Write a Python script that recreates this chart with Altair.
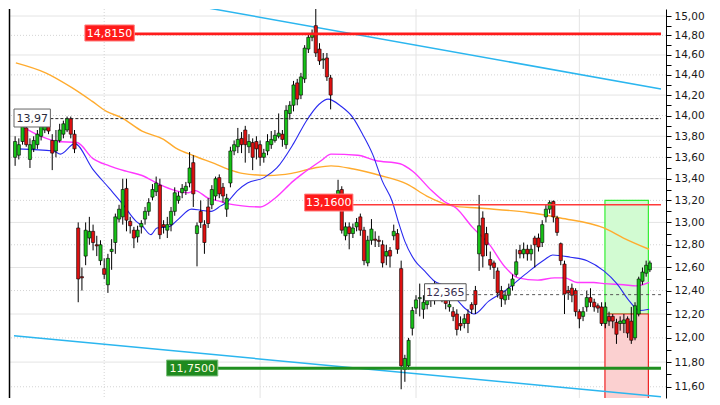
import altair as alt
import pandas as pd

# ---------------- data ----------------
OPEN = [13.60,13.62,13.75,13.88,13.58,13.68,13.72,13.80,13.86,13.97,13.76,13.66,13.76,13.82,13.86,13.97,13.82,
        12.95,12.52,12.70,12.86,12.92,12.80,12.66,12.59,12.45,12.74,12.82,13.03,13.05,13.31,13.01,12.93,12.87,
        12.96,13.03,13.10,13.23,13.28,13.34,12.98,12.93,12.98,13.10,13.20,13.27,13.29,13.36,13.55,12.90,13.10,
        12.98,13.14,13.16,13.24,13.41,13.32,13.12,13.36,13.66,13.70,13.78,13.86,13.70,13.74,13.75,13.72,13.60,
        13.66,13.72,13.76,13.80,13.82,13.72,14.02,14.10,14.32,14.20,14.36,14.66,14.78,14.90,14.66,14.55,14.57,
        14.37,13.16,13.22,13.30,12.88,12.96,12.90,12.96,13.05,12.93,12.64,12.84,12.85,12.84,12.80,12.70,12.75,
        12.88,12.90,12.59,11.74,11.77,12.08,12.25,12.33,12.24,12.28,12.32,12.32,12.40,12.40,12.32,12.26,12.22,
        12.20,12.12,12.12,12.20,12.28,12.40,12.72,13.04,12.90,12.67,12.64,12.57,12.40,12.32,12.36,12.44,12.54,
        12.75,12.72,12.76,12.72,12.86,12.86,12.82,13.05,13.12,13.19,13.04,12.81,12.63,12.40,12.42,12.40,12.22,
        12.18,12.26,12.34,12.30,12.27,12.26,12.12,12.18,12.18,12.13,12.12,12.12,12.16,12.14,12.00,12.20,12.48,
        12.55,12.58]
HIGH = [13.80,13.78,13.95,13.92,13.78,13.80,13.86,13.93,13.99,14.00,13.82,13.86,13.92,13.95,13.99,13.99,13.86,
        13.00,12.60,13.00,13.05,12.98,12.88,12.84,12.68,12.72,12.85,13.08,13.16,13.40,13.40,13.05,12.96,12.97,
        13.02,13.14,13.22,13.35,13.42,13.40,13.02,13.05,13.14,13.32,13.28,13.35,13.37,13.65,13.62,13.00,13.20,
        13.02,13.22,13.34,13.42,13.44,13.36,13.26,13.70,13.76,13.88,13.84,13.90,13.82,13.78,13.80,13.76,13.68,
        13.82,13.85,13.86,14.02,13.86,14.10,14.14,14.34,14.36,14.42,14.70,14.82,14.86,15.14,14.72,14.62,14.62,
        14.40,13.26,13.39,13.33,13.00,13.00,12.99,13.04,13.08,12.96,12.88,13.03,12.92,12.88,12.84,12.80,12.78,
        12.98,12.94,12.66,11.86,12.00,12.26,12.36,12.46,12.36,12.38,12.40,12.48,12.46,12.44,12.34,12.32,12.26,
        12.24,12.18,12.20,12.24,12.30,12.44,13.25,13.10,12.96,12.74,12.66,12.60,12.44,12.40,12.46,12.54,12.76,
        12.80,12.82,12.80,12.80,12.88,12.90,13.02,13.16,13.20,13.20,13.06,12.82,12.66,12.44,12.46,12.42,12.24,
        12.26,12.40,12.42,12.33,12.29,12.30,12.30,12.22,12.20,12.16,12.18,12.20,12.18,12.26,12.30,12.52,12.60,
        12.66,12.66]
LOW = [13.52,13.58,13.72,13.70,13.50,13.65,13.68,13.76,13.83,13.82,13.48,13.60,13.74,13.78,13.84,13.78,13.64,
       12.30,12.40,12.62,12.80,12.75,12.70,12.62,12.50,12.38,12.58,12.72,13.00,12.98,12.92,12.90,12.77,12.82,
       12.90,12.98,13.06,13.20,13.24,12.85,12.90,12.86,12.92,13.06,13.17,13.22,13.25,13.32,13.14,12.61,12.95,
       12.72,12.95,13.12,13.20,13.22,13.18,13.05,13.32,13.62,13.64,13.64,13.55,13.64,13.48,13.58,13.52,13.55,
       13.62,13.68,13.74,13.78,13.70,13.68,13.96,14.04,14.10,14.16,14.32,14.62,14.74,14.58,14.50,14.46,14.34,
       14.06,13.12,13.18,12.90,12.84,12.76,12.86,12.92,12.88,12.62,12.61,12.80,12.78,12.78,12.60,12.62,12.60,
       12.84,12.72,11.58,11.64,11.74,12.02,12.20,12.18,12.16,12.24,12.26,12.28,12.36,12.30,12.24,12.22,12.14,
       12.02,12.06,12.08,12.04,12.20,12.20,12.57,12.60,12.70,12.58,12.50,12.34,12.26,12.28,12.32,12.40,12.52,
       12.68,12.68,12.66,12.66,12.60,12.74,12.78,13.00,13.08,13.00,12.88,12.62,12.20,12.32,12.30,12.18,12.08,
       12.14,12.22,12.26,12.22,12.21,12.10,12.08,12.10,12.08,11.95,12.06,12.04,12.00,11.95,11.98,12.18,12.45,
       12.52,12.56]
CLOSE = [13.75,13.72,13.90,13.72,13.72,13.76,13.82,13.90,13.96,13.85,13.64,13.76,13.86,13.92,13.97,13.82,13.68,
         12.50,12.51,12.93,12.92,12.82,12.79,12.80,12.54,12.68,12.76,13.05,13.12,13.30,13.02,12.97,12.86,12.93,
         12.99,13.10,13.18,13.30,13.36,12.89,12.96,12.98,13.10,13.27,13.24,13.31,13.33,13.50,13.26,12.97,13.00,
         12.82,12.99,13.30,13.40,13.26,13.24,13.22,13.66,13.72,13.77,13.72,13.72,13.75,13.60,13.68,13.60,13.64,
         13.75,13.77,13.81,13.83,13.77,14.05,14.10,14.30,14.16,14.38,14.67,14.78,14.82,14.62,14.54,14.56,14.38,
         14.20,13.22,13.29,12.93,12.96,12.90,12.95,13.00,12.93,12.66,12.84,12.94,12.84,12.83,12.64,12.74,12.70,
         12.92,12.76,11.77,11.83,11.98,12.23,12.32,12.34,12.30,12.32,12.32,12.42,12.41,12.34,12.29,12.28,12.18,
         12.07,12.10,12.16,12.12,12.24,12.28,12.97,12.70,12.80,12.62,12.60,12.38,12.33,12.36,12.42,12.50,12.65,
         12.72,12.76,12.72,12.76,12.80,12.78,12.98,13.12,13.18,13.05,12.91,12.66,12.37,12.38,12.36,12.22,12.16,
         12.22,12.34,12.30,12.26,12.25,12.12,12.26,12.14,12.14,12.03,12.14,12.15,12.04,11.98,12.27,12.50,12.56,
         12.62,12.64]

# moving averages (bar index, price)
BLUE_I = [0.8,10.3,12.2,16.1,20.9,25.4,28.9,32.6,34.2,36.6,38.2,41.4,44.0,47.5,50.1,52.8,55.4,57.3,59.9,62.6,
          67.1,70.5,75.0,78.5,81.9,84.3,87.8,91.0,93.6,96.3,98.9,101.6,103.2,105.0,107.7,110.3,113.0,115.6,118.8,
          121.5,123.6,127.6,132.1,137.4,142.7,144.8,149.6,154.1,158.6,162.1,165.5,168.2,170.8]
BLUE_V = [13.68,13.66,13.63,13.73,13.49,13.31,13.17,13.01,12.97,12.89,12.95,12.96,13.03,13.12,13.11,13.10,13.15,
          13.19,13.29,13.36,13.41,13.50,13.73,13.95,14.11,14.16,14.09,13.98,13.82,13.63,13.38,13.19,13.01,12.83,
          12.66,12.57,12.48,12.44,12.33,12.24,12.20,12.31,12.40,12.54,12.67,12.71,12.69,12.66,12.57,12.46,12.31,
          12.23,12.24]
MAGENTA_I = [1.6,6.9,11.4,16.7,20.9,25.4,29.9,34.2,38.7,43.2,46.7,48.5,52.0,55.4,57.3,61.2,66.0,70.0,75.0,77.2,
             82.5,85.1,92.3,97.1,103.7,107.1,112.2,115.6,118.8,123.1,127.6,132.1,135.5,140.8,145.3,148.0,151.4,
             155.9,158.6,163.9,167.4,170.8]
MAGENTA_V = [13.90,13.80,13.75,13.74,13.59,13.52,13.47,13.43,13.35,13.29,13.27,13.29,13.22,13.19,13.17,13.15,
             13.14,13.22,13.38,13.44,13.57,13.63,13.62,13.57,13.54,13.47,13.29,13.19,13.13,12.96,12.81,12.60,
             12.51,12.49,12.51,12.51,12.47,12.47,12.46,12.45,12.44,12.47]
ORANGE_I = [0.2,8.2,15.4,20.7,24.6,28.6,34.2,40.0,43.2,48.5,53.8,57.3,61.2,68.4,74.5,80.6,85.1,91.2,98.4,105.6,
            110.9,117.8,124.9,138.2,146.9,158.6,163.9,170.8]
ORANGE_V = [14.52,14.42,14.27,14.14,14.04,13.98,13.85,13.77,13.69,13.61,13.54,13.49,13.45,13.43,13.45,13.50,
            13.52,13.49,13.43,13.35,13.24,13.15,13.13,13.09,13.04,12.95,12.86,12.76]

# channel lines (bar index, price)
TREND_TOP_I = [41.4, 174.0]
TREND_TOP_V = [15.157, 14.26]
TREND_BOT_I = [-0.3, 174.0]
TREND_BOT_V = [12.017, 11.52]

# horizontal levels
LEVEL_VALUES = [14.815, 13.16, 11.75, 13.97, 12.365]
LEVEL_DECIMALS = [4, 4, 4, 2, 3]

# zones (bar index range, price range)
ZONE_GREEN = [158.9, 170.6, 13.20, 12.20]
ZONE_RED = [158.9, 170.6, 12.20, 11.40]

# axis ticks
TICKS = [11.6, 11.7, 11.8, 11.9, 12.0, 12.1, 12.2, 12.3, 12.4, 12.5, 12.6, 12.7, 12.8, 12.9, 13.0, 13.1,
         13.2, 13.3, 13.4, 13.5, 13.6, 13.7, 13.8, 13.9, 14.0, 14.1, 14.2, 14.3, 14.4, 14.5, 14.6, 14.7,
         14.8, 14.9, 15.0]
GRID_SOLID = [11.8, 12.2, 12.6, 13.0, 13.4, 13.8, 14.2, 14.6, 15.0]
GRID_DOTTED = [11.6, 12.0, 12.4, 12.8, 13.2, 13.6, 14.0, 14.4, 14.8]
VGRID_DOTTED = [24]
VGRID_SOLID = [66, 108, 152]

# ---------------- layout / style ----------------
W, H = 657, 389
XSCALE = alt.Scale(domain=[-0.3, 174.0], nice=False, zero=False)
YSCALE = alt.Scale(type="log", domain=[11.51, 15.073], nice=False, zero=False)
FONT = "DejaVu Sans"
YAXIS = alt.Axis(orient="right", values=TICKS, title=None, grid=False,
                 labelExpr="(round(datum.value*10) % 2 == 0) ? replace(format(datum.value, '.2f'), '.', ',') : ''",
                 domainColor="black", domainWidth=1, tickColor="black", tickSize=5,
                 labelFont=FONT, labelFontSize=10.5, labelColor="#1a1a1a", labelPadding=3,
                 labelOverlap=False, labelFlush=False)


def X(f):
    return alt.X(f, type="quantitative", scale=XSCALE, axis=None)


def Y(f):
    return alt.Y(f, type="quantitative", scale=YSCALE, axis=YAXIS)


n = len(OPEN)
candles = pd.DataFrame({"i": list(range(n)), "o": OPEN, "h": HIGH, "l": LOW, "c": CLOSE})

layers = []

# grid
layers.append(alt.Chart(pd.DataFrame({"v": GRID_SOLID})).mark_rule(color="#e4e4e4", strokeWidth=1)
              .encode(y=Y("v")))
layers.append(alt.Chart(pd.DataFrame({"v": GRID_DOTTED})).mark_rule(color="#d4d4d4", strokeWidth=1, strokeDash=[1, 2])
              .encode(y=Y("v")))
layers.append(alt.Chart(pd.DataFrame({"i": VGRID_DOTTED})).mark_rule(color="#d4d4d4", strokeWidth=1, strokeDash=[1, 2])
              .encode(x=X("i")))
layers.append(alt.Chart(pd.DataFrame({"i": VGRID_SOLID})).mark_rule(color="#e4e4e4", strokeWidth=1)
              .encode(x=X("i")))

# zones
zones = pd.DataFrame({"x1": [ZONE_GREEN[0], ZONE_RED[0]], "x2": [ZONE_GREEN[1], ZONE_RED[1]],
                      "y1": [ZONE_GREEN[2], ZONE_RED[2]], "y2": [ZONE_GREEN[3], ZONE_RED[3]],
                      "fill": ["#d2fbd2", "#fbd0d0"], "stroke": ["#33ee33", "#ee2222"]})
layers.append(alt.Chart(zones).mark_rect(strokeWidth=1.2, clip=True).encode(
    x=X("x1"), x2="x2", y=Y("y1"), y2="y2",
    fill=alt.Fill("fill:N", scale=None), stroke=alt.Stroke("stroke:N", scale=None)))

# channel lines
for ii, vv in ((TREND_TOP_I, TREND_TOP_V), (TREND_BOT_I, TREND_BOT_V)):
    layers.append(alt.Chart(pd.DataFrame({"i": ii, "v": vv})).mark_line(color="#2bb6ef", strokeWidth=1.5, clip=True)
                  .encode(x=X("i"), y=Y("v")))

# moving averages
for ii, vv, col, sw in ((ORANGE_I, ORANGE_V, "#ffab2e", 1.4), (MAGENTA_I, MAGENTA_V, "#ff38ff", 1.4),
                        (BLUE_I, BLUE_V, "#2a2af0", 1.1)):
    layers.append(alt.Chart(pd.DataFrame({"i": ii, "v": vv})).mark_line(color=col, strokeWidth=sw, interpolate="monotone", clip=True)
                  .encode(x=X("i"), y=Y("v")))

# candles
layers.append(alt.Chart(candles).mark_rule(color="black", strokeWidth=1, clip=True).encode(x=X("i"), y=Y("l"), y2="h"))
layers.append(alt.Chart(candles).mark_bar(size=3.2, stroke="black", strokeWidth=0.6, clip=True).encode(
    x=X("i"), y=Y("o"), y2="c",
    color=alt.condition("datum.c >= datum.o", alt.value("#17c217"), alt.value("#e01010"))))

# level lines
LEVEL_START = [32.1, 91.0, 54.6, 9.5, 121.5]
LEVEL_STYLE = [("#ff1c1c", 2.6, []), ("#ff3a3a", 1.4, []), ("#1f8f1f", 3.0, []),
               ("#222222", 1.0, [3, 2]), ("#555555", 1.0, [3, 3])]
for v, s, (col, sw, dash) in zip(LEVEL_VALUES, LEVEL_START, LEVEL_STYLE):
    kw = dict(color=col, strokeWidth=sw)
    if dash:
        kw["strokeDash"] = dash
    layers.append(alt.Chart(pd.DataFrame({"s": [s], "e": [174.0], "v": [v]})).mark_rule(**kw)
                  .encode(x=X("s"), x2="e", y=Y("v")))

# level label boxes
BOX_X = [(18.8, 32.1), (78.0, 91.0), (40.8, 54.6), (-0.3, 9.5), (110.3, 121.5)]
BOX_Y = [(14.907, 14.742), (13.258, 13.103), (11.817, 11.687), (14.063, 13.889), (12.459, 12.313)]
BOX_FILL = ["#ff1a1a", "#ff1a1a", "#1f8a1f", "#ffffff", "#ffffff"]
BOX_STROKE = ["#ff8080", "#ff8080", "#7fc07f", "#666666", "#555555"]
BOX_TEXT = ["#ffffff", "#ffffff", "#fffbe0", "#2a2a3a", "#3a3050"]
labels = pd.DataFrame({
    "x1": [b[0] for b in BOX_X], "x2": [b[1] for b in BOX_X],
    "y1": [b[0] for b in BOX_Y], "y2": [b[1] for b in BOX_Y],
    "xc": [(b[0] + b[1]) / 2 for b in BOX_X], "yc": [(b[0] * b[1]) ** 0.5 for b in BOX_Y],
    "txt": [f"{v:.{d}f}".replace(".", ",") for v, d in zip(LEVEL_VALUES, LEVEL_DECIMALS)],
    "fill": BOX_FILL, "stroke": BOX_STROKE, "tcol": BOX_TEXT})
layers.append(alt.Chart(labels).mark_rect(strokeWidth=1).encode(
    x=X("x1"), x2="x2", y=Y("y1"), y2="y2",
    fill=alt.Fill("fill:N", scale=None), stroke=alt.Stroke("stroke:N", scale=None)))
layers.append(alt.Chart(labels).mark_text(font=FONT, fontSize=11, align="center", baseline="middle", dy=0.5).encode(
    x=X("xc"), y=Y("yc"), text="txt:N", color=alt.Color("tcol:N", scale=None)))

# left frame line
layers.append(alt.Chart(pd.DataFrame({"a": [0]})).mark_rule(color="black", strokeWidth=1.5).encode(
    x=alt.value(0.5), y=alt.value(0), y2=alt.value(H)))

chart = alt.layer(*layers).properties(
    width=W, height=H, background="white",
    padding={"left": 0, "top": 0, "right": 4, "bottom": 0}
).configure_view(stroke=None)

chart.save("out.html", embed_options={"renderer": "svg", "actions": False})
